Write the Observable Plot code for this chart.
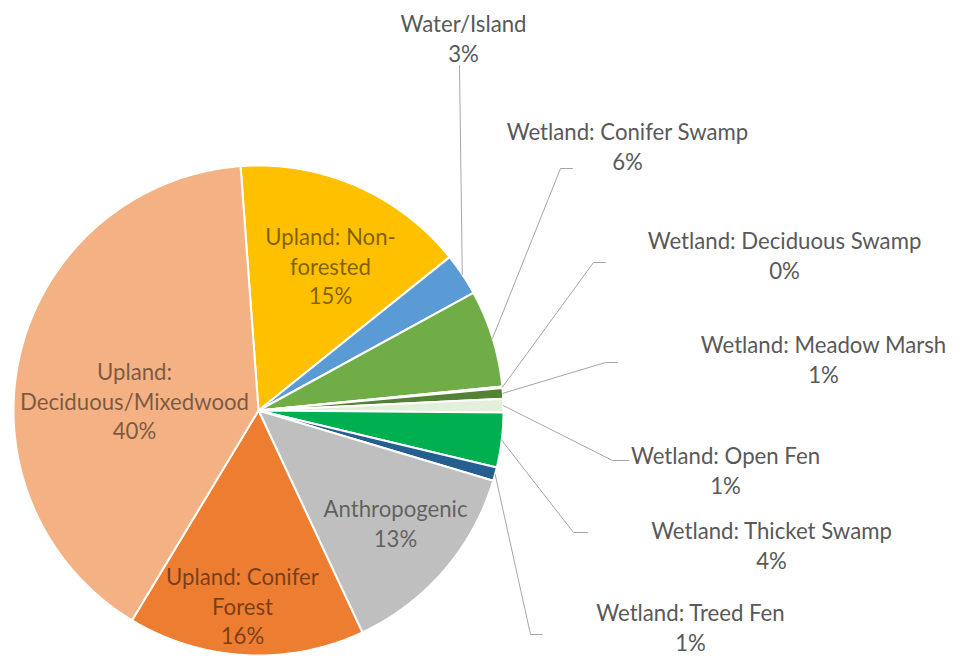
<!DOCTYPE html>
<html>
<head>
<meta charset="utf-8">
<script src="https://cdn.jsdelivr.net/npm/d3@7"></script>
<script src="https://cdn.jsdelivr.net/npm/@observablehq/plot@0.6"></script>
<style>
  html, body { margin: 0; padding: 0; background: #ffffff; }
  #chart svg { display: block; }
</style>
</head>
<body>
<div id="chart"></div>
<script>
// ---------------- DATA ----------------
const categories = [
  "Upland: Non-forested",
  "Water/Island",
  "Wetland: Conifer Swamp",
  "Wetland: Deciduous Swamp",
  "Wetland: Meadow Marsh",
  "Wetland: Open Fen",
  "Wetland: Thicket Swamp",
  "Wetland: Treed Fen",
  "Anthropogenic",
  "Upland: Conifer Forest",
  "Upland: Deciduous/Mixedwood"
];
// share of area (%)
const values = [15.4, 2.8, 6.4, 0.1, 0.7, 0.9, 3.6, 0.9, 13.4, 15.6, 40.2];
// percentage labels as printed on the chart
const percentLabels = ["15%", "3%", "6%", "0%", "1%", "1%", "4%", "1%", "13%", "16%", "40%"];

// ---------------- STYLE / LAYOUT ----------------
const sliceColors = [
  "#FFC000", "#5B9BD5", "#70AD47", "#A9D18E", "#548235", "#E2EFDA",
  "#00B050", "#255E91", "#BFBFBF", "#ED7D31", "#F4B183"
];
const CX = 258, CY = 410, R = 245, START_DEG = -4.2;
const toX = px => (px - CX) / R;
const toY = py => (CY - py) / R;

// label block centres (pixels) and line breaks
const labelLayout = {
  "Upland: Non-forested":        {pos: [330, 265], inside: true, text: "Upland: Non-\nforested"},
  "Water/Island":                {pos: [463, 37]},
  "Wetland: Conifer Swamp":      {pos: [627, 145]},
  "Wetland: Deciduous Swamp":    {pos: [784, 254]},
  "Wetland: Meadow Marsh":       {pos: [823, 358]},
  "Wetland: Open Fen":           {pos: [725, 469]},
  "Wetland: Thicket Swamp":      {pos: [771, 544]},
  "Wetland: Treed Fen":          {pos: [690, 626]},
  "Anthropogenic":               {pos: [395, 522], inside: true},
  "Upland: Conifer Forest":      {pos: [242, 605], inside: true, text: "Upland: Conifer\nForest"},
  "Upland: Deciduous/Mixedwood": {pos: [134, 400], inside: true, text: "Upland:\nDeciduous/Mixedwood"}
};
// leader-line elbow points (pixels), after the slice-edge anchor
const leaderLayout = {
  "Water/Island":             [[459, 65]],
  "Wetland: Conifer Swamp":   [[560, 168], [572, 168]],
  "Wetland: Deciduous Swamp": [[593, 262], [605, 262]],
  "Wetland: Meadow Marsh":    [[605, 362], [617, 362]],
  "Wetland: Open Fen":        [[612, 460], [628, 460]],
  "Wetland: Thicket Swamp":   [[573, 532], [587, 532]],
  "Wetland: Treed Fen":       [[530, 634], [542, 634]]
};

// font size fitted to the width of the reference text
const FONT = "Lato, 'Open Sans', sans-serif";
const ctx = document.createElement("canvas").getContext("2d");
ctx.font = "100px Lato";
let FS = 246 / ctx.measureText("Wetland: Meadow Marsh").width * 100;
if (!isFinite(FS) || FS < 16 || FS > 28) FS = 22;
const LINE_PX = 29.5;

// ---------------- GEOMETRY ----------------
const rad = d => d * Math.PI / 180;
const total = d3.sum(values);
let cum = 0;
const slices = values.map((v, i) => {
  const a0 = START_DEG + cum / total * 360;
  cum += v;
  const a1 = START_DEG + cum / total * 360;
  return {name: categories[i], pct: percentLabels[i], a0, a1, mid: (a0 + a1) / 2};
});

const wedgePts = slices.flatMap(s => {
  const pts = [{name: s.name, x: 0, y: 0}];
  const n = Math.max(2, Math.ceil((s.a1 - s.a0) / 0.5));
  for (let k = 0; k <= n; k++) {
    const a = rad(s.a0 + (s.a1 - s.a0) * k / n);
    pts.push({name: s.name, x: Math.sin(a), y: Math.cos(a)});
  }
  return pts;
});

const leaderPts = slices.filter(s => leaderLayout[s.name]).flatMap(s => {
  const a = rad(s.mid);
  const pts = [{name: s.name, x: Math.sin(a), y: Math.cos(a)}];
  for (const [px, py] of leaderLayout[s.name]) pts.push({name: s.name, x: toX(px), y: toY(py)});
  return pts;
});

const labels = slices.map(s => {
  const L = labelLayout[s.name];
  return {
    name: s.name,
    x: toX(L.pos[0]),
    y: toY(L.pos[1]),
    inside: !!L.inside,
    text: (L.text || s.name) + "\n" + s.pct
  };
});

// ---------------- PLOT ----------------
const chart = Plot.plot({
  width: 967,
  height: 656,
  margin: 0,
  x: {type: "linear", domain: [-1, 1], range: [CX - R, CX + R], axis: null},
  y: {type: "linear", domain: [-1, 1], range: [CY + R, CY - R], axis: null},
  color: {type: "ordinal", domain: categories, range: sliceColors},
  style: {fontFamily: FONT, background: "#ffffff"},
  marks: [
    Plot.line(wedgePts, {
      x: "x", y: "y", z: "name", fill: "name",
      stroke: "#ffffff", strokeWidth: 2, strokeLinejoin: "round",
      curve: "linear-closed"
    }),
    Plot.line(leaderPts, {
      x: "x", y: "y", z: "name",
      stroke: "#a6a6a6", strokeWidth: 1, curve: "linear"
    }),
    Plot.text(labels.filter(d => !d.inside), {
      x: "x", y: "y", text: "text",
      fill: "#595959", fontSize: FS, lineHeight: LINE_PX / FS,
      lineAnchor: "middle", textAnchor: "middle"
    }),
    Plot.text(labels.filter(d => d.inside), {
      x: "x", y: "y", text: "text",
      fill: "#000000", fillOpacity: 0.5, fontSize: FS, lineHeight: LINE_PX / FS,
      lineAnchor: "middle", textAnchor: "middle"
    })
  ]
});

document.getElementById("chart").appendChild(chart);
</script>
</body>
</html>
